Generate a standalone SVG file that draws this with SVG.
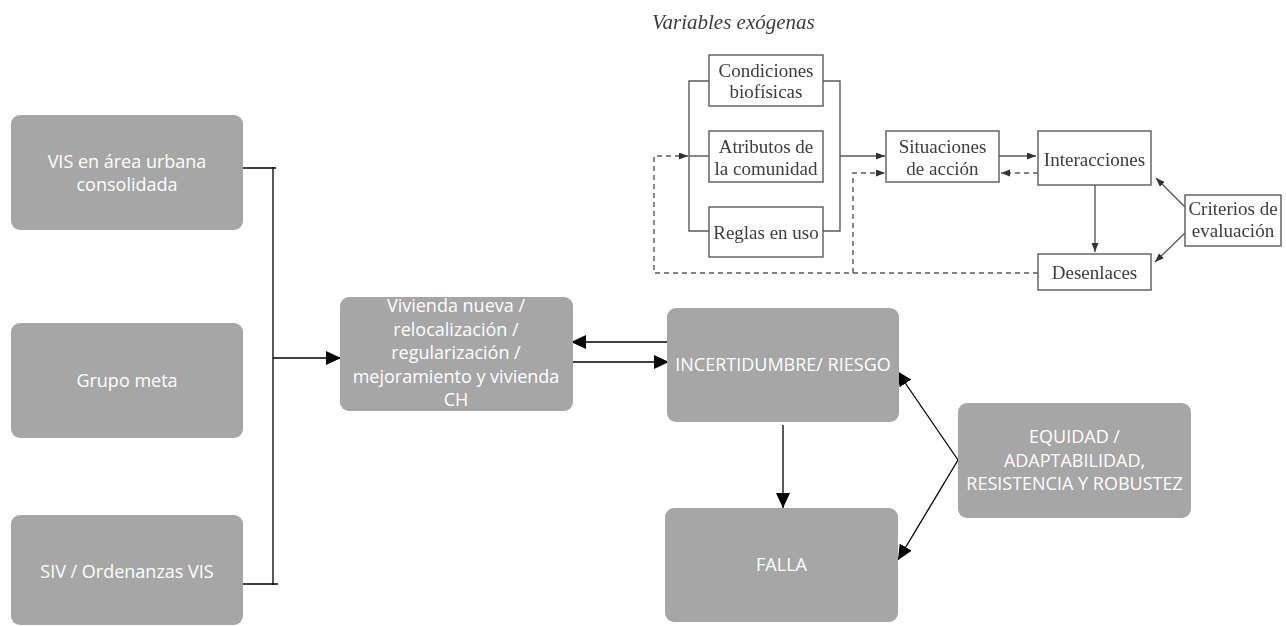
<svg xmlns="http://www.w3.org/2000/svg" width="1286" height="626" viewBox="0 0 1286 626">
  <style>
    .gbox { fill: #a6a6a6; }
    .gtxt { font-family: "Open Sans", "Liberation Sans", sans-serif; font-size: 18px; fill: #ffffff; text-anchor: middle; }
    .link { fill: none; stroke: #000000; stroke-width: 1.3; }
    .obox { fill: #ffffff; stroke: #5a5a5a; stroke-width: 1.4; }
    .otxt { font-family: "Liberation Serif", "DejaVu Serif", serif; font-size: 19px; fill: #3c3c3c; text-anchor: middle; }
    .oline { fill: none; stroke: #5a5a5a; stroke-width: 1.4; }
    .odash { fill: none; stroke: #5a5a5a; stroke-width: 1.4; stroke-dasharray: 5 4; }
  </style>
  <defs>
    <marker id="ah" markerUnits="userSpaceOnUse" markerWidth="16" markerHeight="15" refX="15" refY="7" orient="auto">
      <path d="M0,0 L15,7 L0,14 z" fill="#000000"/>
    </marker>
    <marker id="sh" markerUnits="userSpaceOnUse" markerWidth="10" markerHeight="8" refX="9" refY="3.5" orient="auto">
      <path d="M0,0 L9,3.5 L0,7 z" fill="#333333"/>
    </marker>
    <filter id="soft" x="-5%" y="-5%" width="110%" height="110%">
      <feGaussianBlur stdDeviation="0.45"/>
    </filter>
  </defs>

  <rect width="1286" height="626" fill="#ffffff"/>

  <!-- IAD framework figure (top right) -->
  <g id="iad-framework" filter="url(#soft)">
    <text x="652" y="29" font-family="Liberation Serif, serif" font-style="italic" font-size="21" fill="#3c3c3c">Variables exógenas</text>

    <g id="iad-links">
      <!-- brackets joining the three exogenous boxes -->
      <path class="oline" d="M709,81 H689 V231 H709"/>
      <path class="oline" d="M823,81 H840 V231 H823"/>
      <path class="oline" d="M689,156 H709"/>
      <path class="oline" d="M840,156 H885" marker-end="url(#sh)"/>
      <path class="oline" d="M999,156 H1036" marker-end="url(#sh)"/>
      <path class="oline" d="M1095,185 V252" marker-end="url(#sh)"/>
      <path class="oline" d="M1185,207 L1156,178" marker-end="url(#sh)"/>
      <path class="oline" d="M1185,233 L1155,262" marker-end="url(#sh)"/>
      <!-- feedback loops -->
      <path class="odash" d="M1038,173 H1001" marker-end="url(#sh)"/>
      <path class="odash" d="M1038,273 H654 V156 H688" marker-end="url(#sh)"/>
      <path class="odash" d="M853,273 V173 H885" marker-end="url(#sh)"/>
    </g>

    <g id="iad-condiciones">
      <rect class="obox" x="709" y="55" width="114" height="51"/>
      <text class="otxt" x="766" y="77">Condiciones</text>
      <text class="otxt" x="766" y="98">biofísicas</text>
    </g>
    <g id="iad-atributos">
      <rect class="obox" x="709" y="131" width="114" height="51"/>
      <text class="otxt" x="766" y="153">Atributos de</text>
      <text class="otxt" x="766" y="175">la comunidad</text>
    </g>
    <g id="iad-reglas">
      <rect class="obox" x="709" y="207" width="114" height="50"/>
      <text class="otxt" x="766" y="239">Reglas en uso</text>
    </g>
    <g id="iad-situaciones">
      <rect class="obox" x="886" y="131" width="113" height="51"/>
      <text class="otxt" x="942.5" y="153">Situaciones</text>
      <text class="otxt" x="942.5" y="175">de acción</text>
    </g>
    <g id="iad-interacciones">
      <rect class="obox" x="1038" y="131" width="113" height="54"/>
      <text class="otxt" x="1094.5" y="166">Interacciones</text>
    </g>
    <g id="iad-criterios">
      <rect class="obox" x="1185" y="195" width="96" height="51"/>
      <text class="otxt" x="1233" y="215">Criterios de</text>
      <text class="otxt" x="1233" y="237">evaluación</text>
    </g>
    <g id="iad-desenlaces">
      <rect class="obox" x="1038" y="254" width="113" height="36"/>
      <text class="otxt" x="1094.5" y="279">Desenlaces</text>
    </g>
  </g>

  <!-- connectors of the main diagram -->
  <g id="connectors">
    <path class="link" d="M243,168 H276"/>
    <path class="link" d="M273,167 V585"/>
    <path class="link" d="M243,584 H278"/>
    <path class="link" d="M273,358 H341" marker-end="url(#ah)"/>
    <path class="link" d="M668,342 H571" marker-end="url(#ah)"/>
    <path class="link" d="M573,362 H669" marker-end="url(#ah)"/>
    <path class="link" d="M783,425 V508" marker-end="url(#ah)"/>
    <path class="link" d="M958,460 L897,371" marker-end="url(#ah)"/>
    <path class="link" d="M958,460 L898,560" marker-end="url(#ah)"/>
  </g>

  <g id="vis-urbana">
    <rect class="gbox" x="11" y="115" width="232" height="115" rx="9"/>
    <text class="gtxt" x="127" y="168">VIS en área urbana</text>
    <text class="gtxt" x="127" y="191">consolidada</text>
  </g>
  <g id="grupo-meta">
    <rect class="gbox" x="11" y="323" width="232" height="115" rx="9"/>
    <text class="gtxt" x="127" y="387">Grupo meta</text>
  </g>
  <g id="siv-ordenanzas">
    <rect class="gbox" x="11" y="515" width="232" height="110" rx="9"/>
    <text class="gtxt" x="127" y="578">SIV / Ordenanzas VIS</text>
  </g>
  <g id="vivienda">
    <rect class="gbox" x="340" y="297" width="233" height="114" rx="9"/>
    <text class="gtxt" x="456" y="312">Vivienda nueva /</text>
    <text class="gtxt" x="456" y="335.5">relocalización /</text>
    <text class="gtxt" x="456" y="359">regularización /</text>
    <text class="gtxt" x="456" y="382.5">mejoramiento y vivienda</text>
    <text class="gtxt" x="456" y="406">CH</text>
  </g>
  <g id="incertidumbre">
    <rect class="gbox" x="667" y="308" width="232" height="114" rx="9"/>
    <text class="gtxt" x="783" y="371">INCERTIDUMBRE/ RIESGO</text>
  </g>
  <g id="falla">
    <rect class="gbox" x="665" y="508" width="233" height="114" rx="9"/>
    <text class="gtxt" x="781.5" y="571">FALLA</text>
  </g>
  <g id="equidad">
    <rect class="gbox" x="958" y="403" width="233" height="115" rx="9"/>
    <text class="gtxt" x="1074.5" y="443">EQUIDAD /</text>
    <text class="gtxt" x="1074.5" y="466.5">ADAPTABILIDAD,</text>
    <text class="gtxt" x="1074.5" y="490">RESISTENCIA Y ROBUSTEZ</text>
  </g>
</svg>
